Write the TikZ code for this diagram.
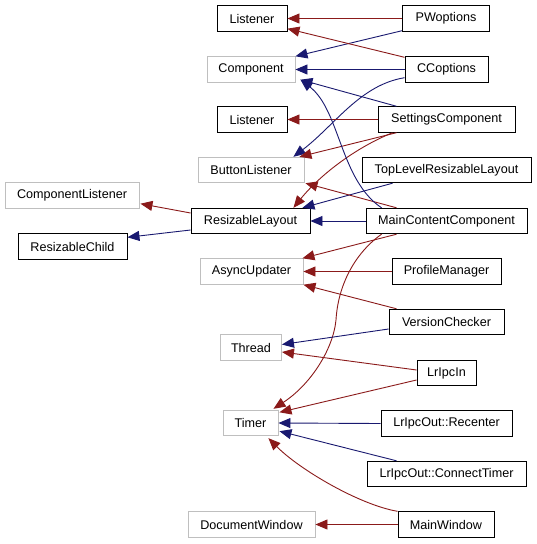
\documentclass[tikz,border=0pt]{standalone}
\usepackage{fontspec}
\newfontfamily\lab{Liberation Sans}
\usetikzlibrary{arrows.meta,calc}
\definecolor{pvtcol}{HTML}{8B1A1A}
\definecolor{pubcol}{HTML}{191970}
\definecolor{boxgray}{HTML}{BFBFBF}
\tikzset{
  box/.style={draw=black, fill=white, line width=0.9pt, minimum height=25.5pt, inner sep=0pt,
    font=\lab\fontsize{12.6}{15}\selectfont},
  gbox/.style={box, draw=boxgray},
  pvt/.style={draw=pvtcol, line width=0.9pt, -{Triangle[length=12pt,width=10pt]}},
  pub/.style={draw=pubcol, line width=0.9pt, -{Triangle[length=12pt,width=10pt]}},
}
\begin{document}
\begin{tikzpicture}[x=1pt,y=-1pt]
\fill[white] (0,0) rectangle (536,544);
\useasboundingbox (0,0) rectangle (536,544);
% left column
\node[box, minimum width=70pt] (lis1) at (252,18.5) {Listener};
\node[gbox, minimum width=88pt] (comp) at (251,69.5) {Component};
\node[box, minimum width=70pt] (lis2) at (252,119.5) {Listener};
\node[gbox, minimum width=106pt] (btn) at (251,170) {ButtonListener};
\node[box, minimum width=119pt] (rl) at (250.5,221) {ResizableLayout};
\node[gbox, minimum width=134pt] (cl) at (72,195.5) {ComponentListener};
\node[box, minimum width=109pt] (rc) at (72.5,246.5) {ResizableChild};
\node[gbox, minimum width=103pt] (au) at (251.5,271.5) {AsyncUpdater};
\node[gbox, minimum width=61pt] (thr) at (251,347.5) {Thread};
\node[gbox, minimum width=55pt] (tim) at (250.5,423) {Timer};
\node[gbox, minimum width=127pt] (dw) at (251.5,524.5) {DocumentWindow};
% right column
\node[box, minimum width=87pt] (pw) at (446,18.5) {PWoptions};
\node[box, minimum width=83pt] (cc) at (446.5,69.5) {CCoptions};
\node[box, minimum width=137pt] (sc) at (446.5,119.5) {SettingsComponent};
\node[box, minimum width=169pt] (tl) at (446.5,170) {TopLevelResizableLayout};
\node[box, minimum width=161pt] (mc) at (446.5,221) {MainContentComponent};
\node[box, minimum width=109pt] (pm) at (446.5,271.5) {ProfileManager};
\node[box, minimum width=115pt] (vc) at (446.5,322) {VersionChecker};
\node[box, minimum width=59pt] (lin) at (446.5,373) {LrIpcIn};
\node[box, minimum width=131pt] (rec) at (446.5,423.5) {LrIpcOut::Recenter};
\node[box, minimum width=159pt] (ct) at (446.5,474) {LrIpcOut::ConnectTimer};
\node[box, minimum width=96pt] (mw) at (446,524.5) {MainWindow};
% edges
\draw[pvt] (pw.west) -- (lis1.east);
\draw[pub] ($(pw.south west)+(0,-1)$) -- (comp.north east);
\draw[pvt] ($(cc.north west)+(0,1)$) -- ($(lis1.south east)+(0,-3)$);
\draw[pub] (cc.west) -- (comp.east);
\draw[pub] ($(cc.south west)+(0,-5)$) .. controls (360,85) and (335,125) .. ($(btn.north east)+(-11,0)$);
\draw[pub] ($(sc.north west)+(19,0)$) -- ($(comp.south east)+(5,-3)$);
\draw[pvt] (sc.west) -- (lis2.east);
\draw[pvt] ($(sc.south west)+(19,0)$) -- ($(btn.north east)+(-5,0)$);
\draw[pvt] ($(sc.south west)+(15,0)$) .. controls (355,148) and (320,175) .. ($(rl.north east)+(-17,0)$);
\draw[pub] ($(tl.south west)+(31,0)$) -- ($(rl.north east)+(-8,0)$);
\draw[pub] (mc.west) -- (rl.east);
\draw[pvt] ($(mc.north west)+(31,0)$) -- ($(btn.south east)+(1,0)$);
\draw[pub] ($(mc.north west)+(16,0)$) .. controls (340,180) and (340,110) .. ($(comp.south east)+(5,-3)$);
\draw[pvt] ($(mc.south west)+(31,0)$) -- ($(au.north east)+(-1,0)$);
\draw[pvt] ($(mc.south west)+(16,0)$) .. controls (355,253) and (338,285) .. (336,320)
  .. controls (333,350) and (310,385) .. ($(tim.north east)+(-5,-1)$);
\draw[pvt] (pm.west) -- (au.east);
\draw[pvt] ($(vc.north west)+(8,0)$) -- (au.south east);
\draw[pub] ($(vc.west)+(0,7)$) -- ($(thr.east)+(0,-3)$);
\draw[pvt] ($(lin.west)+(0,-3)$) -- ($(thr.east)+(0,4.5)$);
\draw[pvt] ($(lin.west)+(0,7)$) -- ($(tim.north east)+(1,2.5)$);
\draw[pub] (rec.west) -- (tim.east);
\draw[pub] ($(ct.north west)+(30,0)$) -- ($(tim.south east)+(1,-5)$);
\draw[pvt] (mw.north west) .. controls (360,505) and (300,470) .. ($(tim.south east)+(-10,2)$);
\draw[pvt] (mw.west) -- (dw.east);
\draw[pvt] ($(rl.west)+(0,-8)$) -- ($(cl.south east)+(1,-5)$);
\draw[pub] ($(rl.west)+(0,9)$) -- ($(rc.north east)+(0,4)$);
\end{tikzpicture}
\end{document}
